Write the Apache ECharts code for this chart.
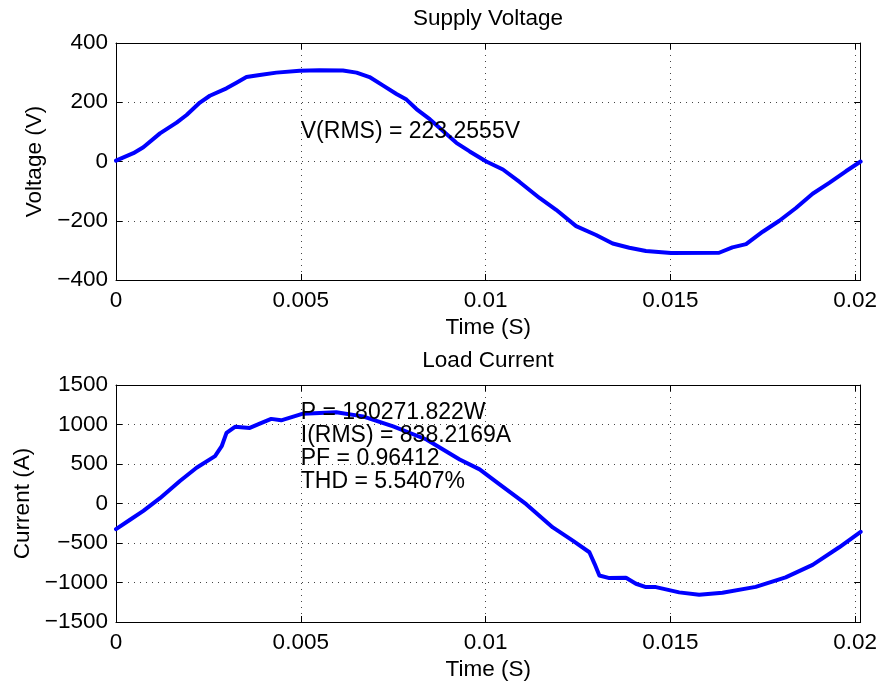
<!DOCTYPE html>
<html>
<head>
<meta charset="utf-8">
<script src="https://cdn.jsdelivr.net/npm/echarts@6/dist/echarts.min.js"></script>
<style>
  html, body { margin: 0; padding: 0; background: #fff; }
  #chart { width: 880px; height: 686px; }
</style>
</head>
<body>
<div id="chart"></div>
<script>
// supply voltage samples (time in s, volts)
const timeV = [0, 0.00047, 0.00074, 0.00119, 0.00164, 0.00191, 0.00227, 0.00254, 0.00299, 0.00326,
  0.00353, 0.00389, 0.00434, 0.00497, 0.0055, 0.00614, 0.00651, 0.00686, 0.00722, 0.00759, 0.00786,
  0.00813, 0.00849, 0.00885, 0.00921, 0.00957, 0.01002, 0.01047, 0.01092, 0.01146, 0.01191, 0.01245,
  0.01299, 0.01344, 0.01389, 0.01434, 0.01502, 0.01632, 0.01668, 0.01705, 0.0175, 0.01795, 0.0184,
  0.01885, 0.0193, 0.01975, 0.02015];
const voltage = [3, 28, 48, 95, 131, 157, 199, 222, 247, 266,
  285, 292, 300, 306, 308, 307, 300, 285, 257, 228, 209,
  177, 143, 103, 63, 34, 0, -27, -69, -123, -163, -218,
  -248, -277, -291, -302, -309, -308, -290, -279, -237, -200, -157,
  -109, -72, -33, 0];

// load current samples (time in s, amps)
const timeI = [0, 0.00038, 0.00074, 0.00119, 0.00173, 0.00218, 0.00268, 0.00286, 0.00299, 0.00322,
  0.00362, 0.00389, 0.0042, 0.00447, 0.00506, 0.00596, 0.00668, 0.0075, 0.0084, 0.0093, 0.00984,
  0.01038, 0.0111, 0.01182, 0.01236, 0.01281, 0.01295, 0.01308, 0.01335, 0.0138, 0.01407, 0.01434,
  0.01461, 0.01524, 0.01578, 0.01641, 0.01731, 0.01812, 0.01885, 0.01957, 0.02015];
const current = [-325, -206, -93, 67, 285, 453, 600, 725, 894, 970,
  957, 1011, 1071, 1053, 1137, 1154, 1103, 977, 810, 558, 432,
  243, -9, -303, -471, -617, -764, -911, -944, -940, -1016, -1058,
  -1058, -1125, -1155, -1130, -1055, -935, -777, -554, -358];

const vText = 'V(RMS) = 223.2555V';
const iText = ['P = 180271.822W', 'I(RMS) = 838.2169A', 'PF = 0.96412', 'THD = 5.5407%'];
const vTextAt = [0.005, 100];
const iTextAt = [0.005, 715];

const font = 'Liberation Sans, Arial, Helvetica, sans-serif';
const fs = 22.5;
const tMax = 0.02015;

let chart = echarts.init(document.getElementById('chart'));

function minus(v) {
  return v < 0 ? '\u2212' + Math.abs(v) : String(v);
}
function zip(a, b) {
  return a.map((t, i) => [t, b[i]]);
}
const border = {show: true, onZero: false, lineStyle: {color: '#000', width: 1}};
const ticks = {show: true, inside: true, length: 6, lineStyle: {color: '#000'}};
const dots = {show: true, lineStyle: {color: '#444', type: [1, 5], width: 1}};

function xAxes(grid) {
  return [{
    gridIndex: grid, type: 'value', min: 0, max: tMax, interval: 0.005,
    name: 'Time (S)', nameLocation: 'middle', nameGap: 36,
    nameTextStyle: {fontFamily: font, fontSize: fs, color: '#000'},
    axisLine: border, axisTick: ticks,
    axisLabel: {showMaxLabel: false, margin: 9, fontFamily: font, fontSize: fs, color: '#000'},
    splitLine: dots
  }, {
    gridIndex: grid, type: 'value', position: 'top', min: 0, max: tMax, interval: 0.005,
    axisLine: border, axisTick: ticks,
    axisLabel: {show: false}, splitLine: {show: false}
  }];
}
function yAxes(grid, name, min, max, step) {
  return [{
    gridIndex: grid, type: 'value', min: min, max: max, interval: step,
    name: name, nameLocation: 'middle', nameGap: 69,
    nameTextStyle: {fontFamily: font, fontSize: fs, color: '#000'},
    axisLine: border, axisTick: ticks,
    axisLabel: {margin: 8, fontFamily: font, fontSize: fs, color: '#000', formatter: minus},
    splitLine: dots
  }, {
    gridIndex: grid, type: 'value', position: 'right', min: min, max: max, interval: step,
    axisLine: border, axisTick: ticks,
    axisLabel: {show: false}, splitLine: {show: false}
  }];
}
function textMark(xi, yi, pos, txt) {
  return {
    type: 'scatter', xAxisIndex: xi, yAxisIndex: yi, silent: true, z: 5,
    symbolSize: 0, data: [pos],
    itemStyle: {opacity: 1},
    label: {
      show: true, position: 'right', distance: 0, opacity: 1,
      fontFamily: font, fontSize: 23, color: '#000', lineHeight: 23,
      textBorderWidth: 0,
      formatter: () => txt
    }
  };
}
function curve(xi, yi, data) {
  return {
    type: 'line', xAxisIndex: xi, yAxisIndex: yi, data: data,
    showSymbol: false, smooth: false,
    lineStyle: {color: '#0000ff', width: 4, join: 'round', cap: 'round'}, silent: true
  };
}

let option = {
  backgroundColor: '#fff',
  animation: false,
  title: [
    {text: 'Supply Voltage', left: 488, top: 7, textAlign: 'center', padding: 0,
      textStyle: {fontFamily: font, fontSize: fs, fontWeight: 'normal', color: '#000'}},
    {text: 'Load Current', left: 488, top: 349, textAlign: 'center', padding: 0,
      textStyle: {fontFamily: font, fontSize: fs, fontWeight: 'normal', color: '#000'}}
  ],
  grid: [
    {left: 116, top: 43, width: 745, height: 237},
    {left: 116, top: 385, width: 745, height: 237}
  ],
  xAxis: xAxes(0).concat(xAxes(1)),
  yAxis: yAxes(0, 'Voltage (V)', -400, 400, 200).concat(yAxes(1, 'Current (A)', -1500, 1500, 500)),
  series: [
    curve(0, 0, zip(timeV, voltage)),
    curve(2, 2, zip(timeI, current)),
    textMark(0, 0, vTextAt, vText),
    textMark(2, 2, iTextAt, iText.join('\n'))
  ]
};
chart.setOption(option);
</script>
</body>
</html>
